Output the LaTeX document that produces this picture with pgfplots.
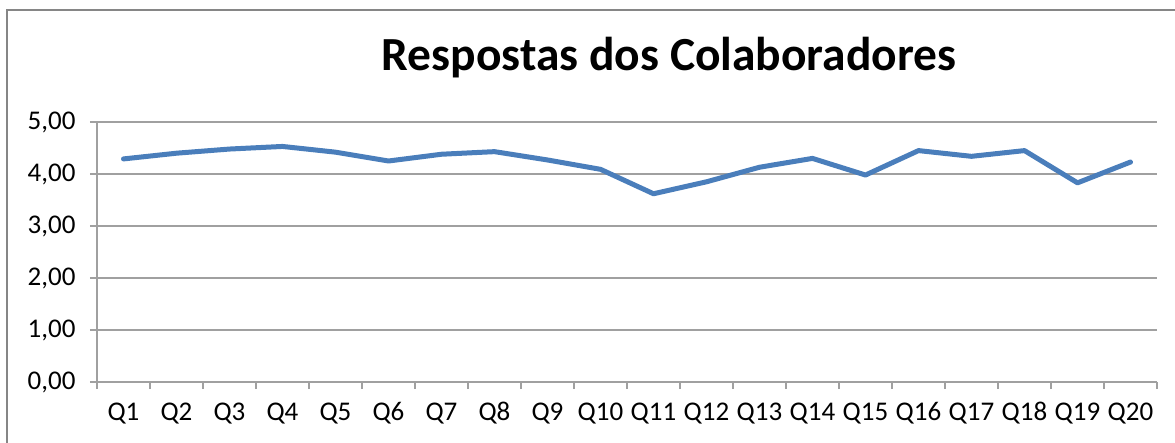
\documentclass[border=0pt]{standalone}
\usepackage{pgfplots}
\pgfplotsset{compat=1.18}
\usepackage{fontspec}
\setmainfont{Carlito}
\definecolor{lineblue}{RGB}{74,126,187}
\definecolor{gridgray}{RGB}{160,160,160}
\definecolor{bordergray}{RGB}{134,134,134}
\begin{document}
\begin{tikzpicture}[x=1pt,y=1pt]
\useasboundingbox (-97,-60) rectangle (1078,382);
\draw[bordergray, line width=1.5pt] (-90,-70) -- (-90,372) -- (1090,372);
\node[font=\bfseries\fontsize{47.5}{56}\selectfont, anchor=center] at (572,324) {Respostas dos Colaboradores};
\begin{axis}[
  at={(0,0)}, anchor=south west,
  scale only axis, width=1060pt, height=260pt,
  xmin=0.5, xmax=20.5, ymin=0, ymax=5,
  axis lines=left, axis line style={-, gridgray, line width=1.2pt},
  xtick={1,...,20},
  xticklabels={Q1,Q2,Q3,Q4,Q5,Q6,Q7,Q8,Q9,Q10,Q11,Q12,Q13,Q14,Q15,Q16,Q17,Q18,Q19,Q20},
  major x tick style={draw=none},
  minor xtick={0.5,1.5,...,20.5},
  minor x tick style={gridgray, line width=1.2pt},
  minor tick length=7pt,
  ytick={0,1,2,3,4,5},
  major y tick style={gridgray, line width=1.2pt},
  major tick length=7pt,
  tick align=outside,
  ymajorgrids, major grid style={gridgray, line width=1.2pt},
  tick label style={font=\fontsize{27}{31}\selectfont},
  yticklabel style={xshift=-11pt, /pgf/number format/fixed, /pgf/number format/fixed zerofill, /pgf/number format/precision=2, /pgf/number format/use comma, /pgf/number format/assume math mode=true},
  xticklabel style={yshift=-10pt},
  clip=false,
]
\addplot[lineblue, line width=5pt, line join=round, line cap=round] coordinates {
(1,4.29) (2,4.40) (3,4.48) (4,4.53) (5,4.42) (6,4.25) (7,4.38) (8,4.43) (9,4.27) (10,4.09)
(11,3.62) (12,3.85) (13,4.13) (14,4.30) (15,3.98) (16,4.45) (17,4.34) (18,4.45) (19,3.83) (20,4.23)
};
\end{axis}
\end{tikzpicture}
\end{document}
